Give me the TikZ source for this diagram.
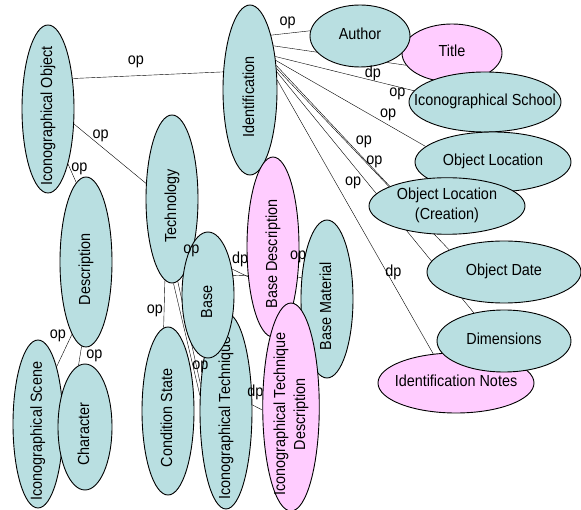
\documentclass[tikz,border=0pt]{standalone}
\usepackage{fontspec}
\usepackage{graphicx}
\setmainfont{Liberation Sans}[FakeStretch=0.9]
\usetikzlibrary{shapes.geometric}
\definecolor{clsfill}{RGB}{185,223,225}
\definecolor{valfill}{RGB}{255,204,255}
\pgfdeclarelayer{edges}
\pgfsetlayers{edges,main}
\newcommand{\htxt}[1]{\makebox[0pt]{\begin{tabular}{@{}c@{}}#1\end{tabular}}}
\newcommand{\vtxt}[1]{\rotatebox{90}{\makebox[0pt]{\begin{tabular}{@{}c@{}}#1\end{tabular}\hspace{14pt}}}}
\newcommand{\conn}[4]{%
  \begin{pgfonlayer}{edges}\draw (#1) -- (#2);\end{pgfonlayer}
  \path (#1) -- (#2) node[lbl,#3] {#4};}
\tikzset{
  cls/.style={ellipse, draw, fill=clsfill, inner sep=0pt},
  val/.style={ellipse, draw, fill=valfill, inner sep=0pt},
  dims/.style 2 args={minimum width=#1pt, minimum height=#2pt},
  lbl/.style={inner sep=1pt}
}
\begin{document}
\begin{tikzpicture}[x=1pt, y=-1pt, line width=0.9pt,
				font=\fontsize{16}{20}\selectfont]
\useasboundingbox (0,0) rectangle (581,510);
\node[cls, dims={52}{168}] (io) at (48,109) {\vtxt{Iconographical Object}};
\node[cls, dims={54}{170}] (idf) at (250,90) {\vtxt{Identification}};
\node[cls, dims={52}{168}] (tech) at (172,199) {\vtxt{Technology}};
\node[cls, dims={52}{170}] (desc) at (86,262) {\vtxt{Description}};
\node[cls, dims={50}{168}] (scene) at (38,424) {\vtxt{Iconographical Scene}};
\node[cls, dims={54}{126}] (char) at (85,427) {\vtxt{Character}};
\node[cls, dims={52}{168}] (cond) at (168,411) {\vtxt{Condition State}};
\node[cls, dims={52}{196}] (itech) at (226,411) {\vtxt{Iconographical Technique}};
\node[cls, dims={52}{126}] (base) at (208,295) {\vtxt{Base}};
\node[val, dims={52}{180}] (bdesc) at (273,247) {\vtxt{Base Description}};
\node[cls, dims={52}{158}] (bmat) at (327,299) {\vtxt{Base Material}};
\node[val, dims={52}{208}] (itdesc) at (291,407) {\vtxt{Iconographical Technique\\Description}};
\node[val, dims={100}{58}] (title) at (452,53) {\htxt{Title}};
\node[cls, dims={100}{62}] (author) at (360,36) {\htxt{Author}};
\node[cls, dims={152}{60}] (school) at (485,102) {\htxt{Iconographical School}};
\node[cls, dims={156}{60}] (oloc) at (493,162) {\htxt{Object Location}};
\node[cls, dims={156}{56}] (ocre) at (447,206) {\htxt{Object Location\\(Creation)}};
\node[cls, dims={154}{62}] (odate) at (504,272) {\htxt{Object Date}};
\node[val, dims={156}{60}] (inotes) at (456,383) {\htxt{Identification Notes}};
\node[cls, dims={134}{62}] (dimens) at (504,341) {\htxt{Dimensions}};

\conn{io.51}{idf.146}{pos=.42, above=7pt}{op}
\conn{io.-30}{tech.149}{pos=.37, above=3pt}{op}
\conn{io.-70}{desc.97}{pos=.25, right}{op}
\conn{desc.-101}{scene.72}{pos=.05, left=4pt}{op}
\conn{desc.-93}{char.96}{midway, right=5pt}{op}
\conn{idf.69.5}{author.174}{pos=.42, above=3pt}{op}
\conn{idf.62}{title.-165}{pos=.75, below=4pt}{dp}
\conn{idf.53}{school.171.5}{pos=.88, below}{op}
\conn{idf.49}{oloc.167}{pos=.75, above=3pt}{op}
\conn{idf.43}{ocre.161.6}{pos=.69, above right}{op}
\conn{idf.39}{odate.158}{pos=.514, right}{op}
\conn{idf.34}{dimens.137}{pos=.46, left=5pt}{op}
\conn{idf.20.5}{inotes.128}{pos=.704, right=-3pt}{dp}
\conn{tech}{base}{midway}{op}
\conn{tech.-95}{cond.93}{pos=.65, left}{op}
\conn{tech.-89}{itech.149}{pos=.745, right=-2pt}{op}
\begin{pgfonlayer}{edges}
\draw (tech.-86) -- (itech.134);
\end{pgfonlayer}
\conn{base.47}{bdesc.-130}{midway, above=5pt}{dp}
\conn{base.38}{bmat.140}{pos=.95, above=13pt}{op}
\conn{itech.13}{itdesc.186}{pos=.3, above=5pt}{dp}
\end{tikzpicture}
\end{document}
